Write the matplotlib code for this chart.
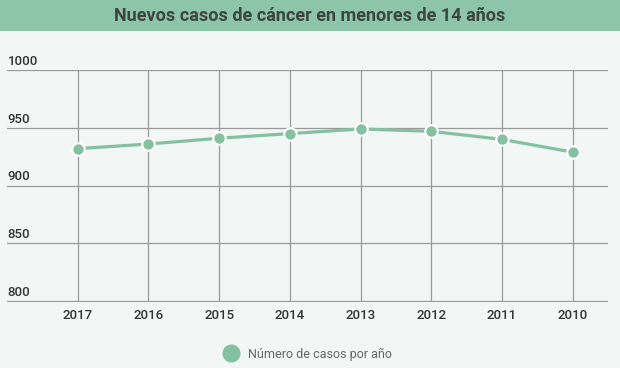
import matplotlib.pyplot as plt
from matplotlib.lines import Line2D
from matplotlib.patches import Rectangle

years = ["2017", "2016", "2015", "2014", "2013", "2012", "2011", "2010"]
cases = [932, 936, 941, 945, 949, 947, 940, 929]
y_ticks = [800, 850, 900, 950, 1000]

green = "#84c1a1"
bg = "#f2f7f5"

plt.rcParams["font.family"] = ["Roboto", "DejaVu Sans"]

fig = plt.figure(figsize=(6.2, 3.68), dpi=100, facecolor=bg)

# title banner
fig.patches.append(Rectangle((0, 1 - 31 / 368), 1, 31 / 368, transform=fig.transFigure,
                             facecolor="#8dc5a8", edgecolor="none", zorder=0))
fig.text(0.5, 1 - 16 / 368, "Nuevos casos de cáncer en menores de 14 años",
         ha="center", va="center", fontsize=13, fontweight="bold",
         color="#3d4541")

ax = fig.add_axes([7 / 620, 1 - 302 / 368, 601 / 620, 232 / 368])
ax.set_facecolor(bg)
x = list(range(len(years)))
ax.plot(x, cases, color=green, lw=2.3, marker="o", markersize=9,
        markerfacecolor=green, markeredgecolor="white", markeredgewidth=1.5,
        zorder=3, clip_on=False)

ax.set_xlim(-1.0, 7.5)
ax.set_ylim(799.4, 1000)
ax.set_xticks(x)
ax.set_xticklabels(years, fontsize=9.5, color="#333333", fontweight="medium")
ax.set_yticks(y_ticks)
ax.set_yticklabels([])
ax.tick_params(length=0, pad=5)
ax.grid(True, color="#9a9a9a", lw=0.9)
for s in ax.spines.values():
    s.set_visible(False)

for v in y_ticks:
    ax.text(-0.99, v + 2, str(v), ha="left", va="bottom", fontsize=9.5,
            color="#333333", fontweight="medium")

handle = Line2D([], [], ls="none", marker="o", markersize=12,
                markerfacecolor=green, markeredgecolor=green)
fig.legend([handle], ["Número de casos por año"], loc="center",
           bbox_to_anchor=(0.492, 1 - 354 / 368), frameon=False,
           fontsize=9, labelcolor="#666666", handletextpad=0.4)

fig.savefig("out.png", dpi=100, facecolor=bg)
